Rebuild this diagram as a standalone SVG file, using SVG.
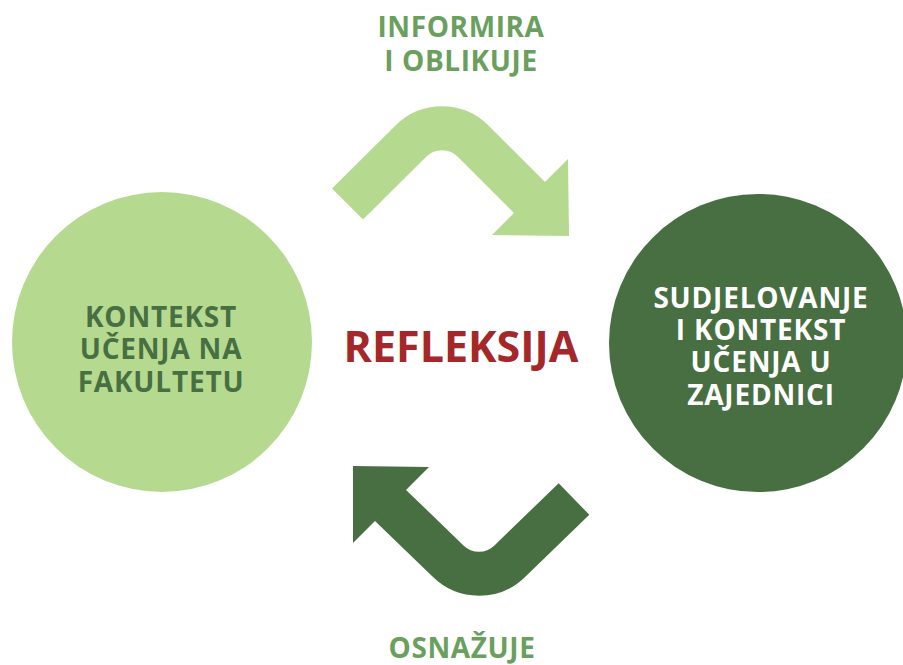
<svg xmlns="http://www.w3.org/2000/svg" width="903" height="665" viewBox="0 0 903 665">
<style>
text{font-family:"Open Sans","Noto Sans","DejaVu Sans",sans-serif;font-weight:700;text-anchor:middle}
.lbl{fill:#6a9f5e;font-size:28px;letter-spacing:0.6px}
.ltxt{fill:#476f42;font-size:28px;letter-spacing:0.8px}
.rtxt{fill:#ffffff;font-size:28px;letter-spacing:0.8px}
.ref{fill:#a4282a;font-size:43px}
.shaft{fill:none;stroke-width:44;stroke-linejoin:round}
</style>
<rect width="903" height="665" fill="#ffffff"/>
<g id="node-fakultet">
<circle cx="162" cy="342" r="150" fill="#b6d990"/>
<text class="ltxt" x="161" y="327">KONTEKST</text>
<text class="ltxt" x="161" y="359">UČENJA NA</text>
<text class="ltxt" x="161" y="392">FAKULTETU</text>
</g>
<g id="node-zajednica">
<circle cx="758" cy="343" r="149" fill="#476f42"/>
<text class="rtxt" x="761" y="308">SUDJELOVANJE</text>
<text class="rtxt" x="761" y="340">I KONTEKST</text>
<text class="rtxt" x="761" y="372">UČENJA U</text>
<text class="rtxt" x="761" y="405">ZAJEDNICI</text>
</g>
<g id="node-refleksija">
<text class="ref" x="461" y="362">REFLEKSIJA</text>
</g>
<g id="connectors">
<g id="arrow-informira">
<path class="shaft" stroke="#b6d990" d="M347.5,204 L411,141 A44,44 0 0 1 473,141 L531,199"/>
<polygon fill="#b6d990" points="568,159 569,236 492,235"/>
<text class="lbl" x="461" y="37">INFORMIRA</text>
<text class="lbl" x="461" y="71">I OBLIKUJE</text>
</g>
<g id="arrow-osnazuje">
<path class="shaft" stroke="#476f42" d="M574,499 L510,561 A44,44 0 0 1 448,561 L390,505"/>
<polygon fill="#476f42" points="353,466 429,467 353,543"/>
<text class="lbl" x="462" y="658">OSNAŽUJE</text>
</g>
</g>
</svg>
